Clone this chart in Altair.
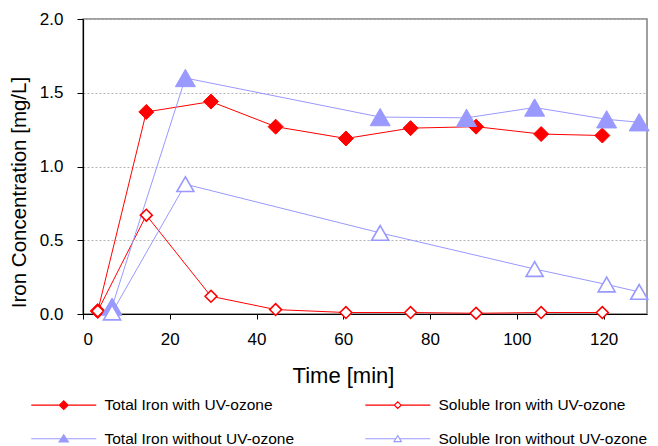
import altair as alt
import pandas as pd

# ---------------- data ----------------
series_names = [
    "Total Iron with UV-ozone",
    "Soluble Iron with UV-ozone",
    "Total Iron without UV-ozone",
    "Soluble Iron without UV-ozone",
]
time_uv = [3.4, 14.6, 29.5, 44.4, 60.6, 75.5, 90.6, 105.6, 119.7]
total_uv = [0.02, 1.37, 1.44, 1.27, 1.19, 1.26, 1.27, 1.22, 1.21]
soluble_uv = [0.02, 0.67, 0.12, 0.03, 0.01, 0.01, 0.005, 0.01, 0.01]
time_total_no = [6.7, 23.6, 68.5, 88.4, 104.1, 120.7, 128.2]
total_no = [0.05, 1.60, 1.335, 1.33, 1.40, 1.32, 1.30]
time_soluble_no = [6.7, 23.6, 68.5, 104.1, 120.7, 128.2]
soluble_no = [0.01, 0.88, 0.55, 0.305, 0.20, 0.15]

x_ticks = [0, 20, 40, 60, 80, 100, 120]
y_ticks = [0.0, 0.5, 1.0, 1.5, 2.0]

# ---------------- styles ----------------
RED = "#FF0000"
BLUE = "#9999FF"
line_colors = [RED, RED, BLUE, BLUE]
fill_colors = [RED, "#FFFFFF", BLUE, "#FFFFFF"]
shapes = ["diamond", "diamond", "triangle-up", "triangle-up"]
sizes = [225, 140, 400, 290]
stroke_widths = [1, 1.6, 1, 1.6]

series_x = [time_uv, time_uv, time_total_no, time_soluble_no]
series_y = [total_uv, soluble_uv, total_no, soluble_no]

rows = []
for i, name in enumerate(series_names):
    for t, v in zip(series_x[i], series_y[i]):
        rows.append({
            "series": name, "time": t, "value": v,
            "lc": line_colors[i], "fc": fill_colors[i], "shp": shapes[i],
            "sz": sizes[i], "sw": stroke_widths[i], "order": i,
        })
df = pd.DataFrame(rows)

# ---------------- legend symbols (line + marker) ----------------
L = 8.125  # half line length in symbol units (symbolSize 64 -> 4px per unit)


def diamond_path(h):
    return f"M{-L},0H{-h}M{h},0H{L}M{-h},0L0,{-h}L{h},0L0,{h}Z"


def triangle_path(w, a, b):
    c = round(w * a / (a + b), 3)
    return f"M{-L},0H{-c}M{c},0H{L}M{-w},{b}L0,{-a}L{w},{b}Z"


legend_paths = [
    diamond_path(1.1),
    diamond_path(0.85),
    triangle_path(1.15, 0.95, 0.8),
    triangle_path(0.9, 0.8, 0.7),
]

FONT = "Liberation Sans"

x_enc = alt.X(
    "time:Q",
    scale=alt.Scale(domain=[0, 130], nice=False),
    axis=alt.Axis(
        values=x_ticks, title="Time [min]", format="d",
        titleX=260, titleY=61, titleBaseline="middle", titleAlign="center",
        titleFontSize=22, labelPadding=12, tickSize=5, grid=False,
    ),
)
y_enc = alt.Y(
    "value:Q",
    scale=alt.Scale(domain=[0, 2], nice=False),
    axis=alt.Axis(
        values=y_ticks, title="Iron Concentration [mg/L]", format=".1f",
        titleX=-64, titleY=173, titleAngle=-90, titleBaseline="middle",
        titleAlign="center", titleFontSize=20.5, labelPadding=14, tickSize=6,
        grid=True, gridDash=[2, 2], gridColor="#b4b4b4", gridWidth=1,
    ),
)

legend = alt.Legend(
    title=None, orient="none", legendX=-55, legendY=378, direction="horizontal",
    columns=2, columnPadding=67, rowPadding=17,
    symbolSize=64, symbolOffset=28, labelOffset=33,
    labelFont=FONT, labelFontSize=15.5, labelColor="#000000",
    labelLimit=400, symbolStrokeWidth=1.2, symbolOpacity=1,
)

lines = alt.Chart(df).mark_line(strokeWidth=1).encode(
    x=x_enc,
    y=y_enc,
    detail="series:N",
    stroke=alt.Stroke("lc:N", scale=None),
    order="time:Q",
)

points = alt.Chart(df).mark_point(opacity=1, filled=False).encode(
    x=x_enc,
    y=y_enc,
    shape=alt.Shape("shp:N", scale=None),
    stroke=alt.Stroke("lc:N", scale=None),
    fill=alt.Fill("fc:N", scale=None),
    size=alt.Size("sz:Q", scale=None),
    strokeWidth=alt.StrokeWidth("sw:Q", scale=None),
    order="order:Q",
)

# invisible layer that only carries the legend (line + marker symbols)
legend_layer = alt.Chart(df).mark_point(opacity=0, filled=False).encode(
    x=x_enc,
    y=y_enc,
    shape=alt.Shape("series:N",
                    scale=alt.Scale(domain=series_names, range=legend_paths),
                    legend=legend),
    stroke=alt.Stroke("series:N",
                      scale=alt.Scale(domain=series_names, range=line_colors),
                      legend=legend),
    fill=alt.Fill("series:N",
                  scale=alt.Scale(domain=series_names, range=fill_colors),
                  legend=legend),
)

chart = (
    alt.layer(lines, points, legend_layer)
    .properties(
        width=564,
        height=295,
        padding={"left": 75, "top": 11, "right": 3, "bottom": 132},
        autosize=alt.AutoSizeParams(type="none"),
        background="#FFFFFF",
    )
    .configure_view(stroke="#808080", strokeWidth=1.5)
    .configure_axis(
        labelFont=FONT, titleFont=FONT, labelFontSize=17,
        labelColor="#000000", titleColor="#000000", titleFontWeight="normal",
        domainColor="#000000", tickColor="#000000", domainWidth=1.2,
    )
)

chart.save("out.html", embed_options={"renderer": "svg", "actions": False})
